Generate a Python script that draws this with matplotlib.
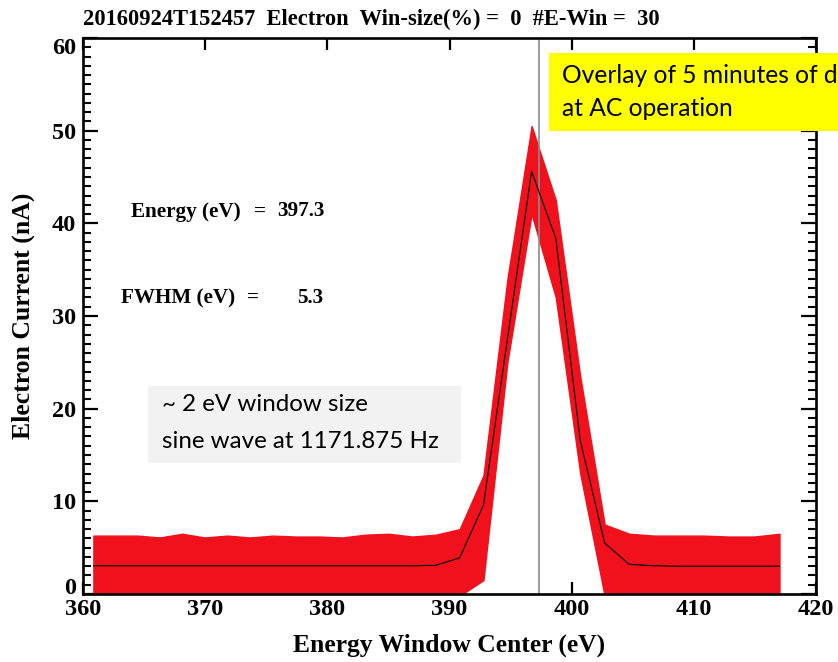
import matplotlib
matplotlib.use("Agg")
import matplotlib.pyplot as plt
from matplotlib.patches import Rectangle
from matplotlib.ticker import MultipleLocator

# ---------------- data ----------------
energy_ev = [360.85, 362.65, 364.47, 366.29, 368.12, 369.96, 371.81, 373.67,
             375.54, 377.42, 379.30, 381.20, 383.11, 385.02, 386.95, 388.88,
             390.83, 392.78, 394.74, 396.72, 398.70, 400.70, 402.70, 404.71,
             406.74, 408.77, 410.81, 412.87, 414.93, 417.01]
mean_current_na = [3.05, 3.05, 3.05, 3.05, 3.05, 3.05, 3.05, 3.05,
                   3.05, 3.05, 3.05, 3.05, 3.05, 3.05, 3.05, 3.1,
                   3.9, 9.6, 27.5, 45.6, 38.4, 16.6, 5.5, 3.2,
                   3.05, 3.0, 3.0, 3.0, 3.0, 3.0]
band_upper_na = [6.3, 6.3, 6.3, 6.1, 6.5, 6.1, 6.3, 6.1,
                 6.3, 6.2, 6.2, 6.1, 6.4, 6.5, 6.2, 6.4,
                 7.0, 12.8, 34.0, 50.5, 42.5, 23.5, 7.5, 6.5,
                 6.3, 6.3, 6.3, 6.2, 6.2, 6.5]
band_lower_na = [-0.2, -0.2, -0.2, -0.2, -0.2, -0.2, -0.2, -0.2,
                 -0.2, -0.2, -0.2, -0.2, -0.2, -0.2, -0.2, -0.2,
                 -0.2, 1.5, 25.0, 41.0, 32.0, 13.0, -0.2, -0.2,
                 -0.2, -0.2, -0.2, -0.2, -0.2, -0.2]
peak_energy_ev = 397.3
fwhm_ev = 5.3
x_ticks = [360, 370, 380, 390, 400, 410, 420]
y_ticks = [0, 10, 20, 30, 40, 50, 60]

title_text = "20160924T152457  Electron  Win-size(%) =  0  #E-Win =  30"
x_label = "Energy Window Center (eV)"
y_label = "Electron Current (nA)"
energy_label = "Energy (eV)"
fwhm_label = "FWHM (eV)"
grey_lines = ["~ 2 eV window size", "sine wave at 1171.875 Hz"]
yellow_lines = ["Overlay of 5 minutes of data", "at AC operation"]

# ---------------- styling ----------------
RED = "#F0111D"
SERIF = ["Liberation Serif", "DejaVu Serif"]
SANS = ["Lato", "DejaVu Sans"]

W, H = 838, 662
fig = plt.figure(figsize=(W / 100, H / 100), dpi=100)


def fx(px):
    return px / W


def fy(py):
    return 1 - py / H


renderer = fig.canvas.get_renderer()


def fit(t, target, use_height=False):
    bb = t.get_window_extent(renderer=renderer)
    cur = bb.height if use_height else bb.width
    t.set_fontsize(t.get_fontsize() * target / cur)
    return t


ax = fig.add_axes([fx(83), fy(594), (816 - 83) / W, (594 - 38) / H])
ax.set_xlim(360, 420)
ax.set_ylim(0, 60)

ax.fill_between(energy_ev, band_lower_na, band_upper_na, color=RED,
                edgecolor=RED, lw=1.0, zorder=2)
ax.axvline(peak_energy_ev, color="#8c8c8c", lw=1.2, zorder=3)
ax.plot(energy_ev, mean_current_na, color="black", lw=0.8, zorder=4)

for s in ax.spines.values():
    s.set_linewidth(1.9)
    s.set_zorder(5)

ax.set_xticks(x_ticks)
ax.set_yticks(y_ticks)
ax.yaxis.set_minor_locator(MultipleLocator(1))
ax.tick_params(which="both", direction="in", top=True, right=True,
               width=1.6, colors="black")
ax.tick_params(axis="x", which="major", length=8.5, pad=3.5)
ax.tick_params(axis="y", which="major", length=11, pad=5)
ax.tick_params(axis="y", which="minor", length=5.5, width=1.5)
for lab in ax.get_xticklabels() + ax.get_yticklabels():
    lab.set_fontfamily(SERIF)
    lab.set_fontweight("bold")
    lab.set_fontsize(17.5)
ylabs = ax.get_yticklabels()
ylabs[0].set_va("baseline")
ylabs[-1].set_va("top")

# title and axis labels
t = fig.text(fx(83), fy(25), title_text, ha="left", va="baseline",
             family=SERIF, weight="bold", fontsize=16)
fit(t, 579)
t = fig.text(fx(449), fy(652), x_label, ha="center", va="baseline",
             family=SERIF, weight="bold", fontsize=18)
fit(t, 312)
t = fig.text(fx(23), fy(316), y_label, ha="center", va="center",
             rotation=90, family=SERIF, weight="bold", fontsize=18)
fit(t, 247, use_height=True)

# energy / fwhm annotations
t = fig.text(fx(130.7), fy(216.5), energy_label, ha="left", va="baseline",
             family=SERIF, weight="bold", fontsize=12)
fit(t, 109)
fs_ann = t.get_fontsize()
fig.text(fx(260), fy(216.5), "=", ha="center", va="baseline",
         family=SERIF, weight="bold", fontsize=fs_ann)
fig.text(fx(324.3), fy(216.5), f"{peak_energy_ev:.1f}", ha="right",
         va="baseline", family=SERIF, weight="bold", fontsize=fs_ann)
fig.text(fx(121), fy(303.3), fwhm_label, ha="left", va="baseline",
         family=SERIF, weight="bold", fontsize=fs_ann)
fig.text(fx(253.3), fy(303.3), "=", ha="center", va="baseline",
         family=SERIF, weight="bold", fontsize=fs_ann)
fig.text(fx(323.3), fy(303.3), f"{fwhm_ev:.1f}", ha="right",
         va="baseline", family=SERIF, weight="bold", fontsize=fs_ann)

# grey box
fig.patches.append(Rectangle((fx(148.3), fy(462.7)), (460.7 - 148.3) / W,
                             (462.7 - 386) / H, transform=fig.transFigure,
                             facecolor="#F2F2F2", edgecolor="none", zorder=3))
g2 = fig.text(fx(161.7), fy(448.3), grey_lines[1], ha="left", va="baseline",
              family=SANS, fontsize=18, zorder=4)
fit(g2, 276.6)
fig.text(fx(161.7), fy(410.7), grey_lines[0], ha="left", va="baseline",
         family=SANS, fontsize=g2.get_fontsize(), zorder=4)

# yellow box (runs off the right edge like the reference)
fig.patches.append(Rectangle((fx(549.3), fy(130.7)), (W + 10 - 549.3) / W,
                             (130.7 - 53.3) / H, transform=fig.transFigure,
                             facecolor="#FFFF00", edgecolor="none", zorder=10))
y2 = fig.text(fx(561.7), fy(115.5), yellow_lines[1], ha="left", va="baseline",
              family=SANS, fontsize=18, zorder=11)
fit(y2, 170.7)
fig.text(fx(561.7), fy(83.3), yellow_lines[0], ha="left", va="baseline",
         family=SANS, fontsize=y2.get_fontsize(), zorder=11)

fig.savefig("out.png", dpi=100)
